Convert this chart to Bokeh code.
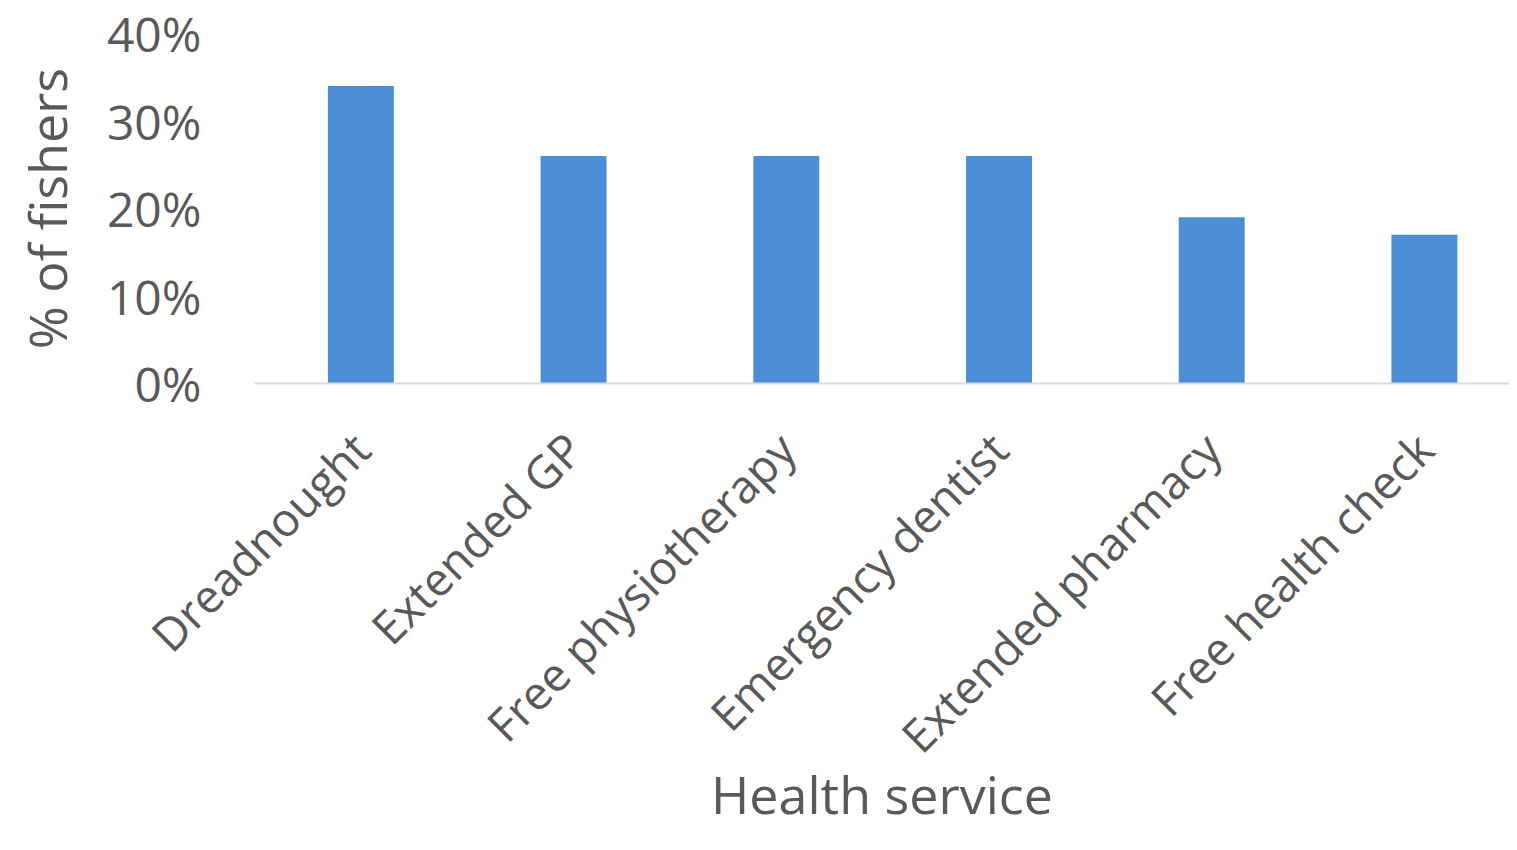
import math
from bokeh.plotting import figure
from bokeh.models import Range1d, FixedTicker, NumeralTickFormatter, ColumnDataSource
from bokeh.embed import file_html
from bokeh.resources import INLINE

categories = ["Dreadnought", "Extended GP", "Free physiotherapy", "Emergency dentist",
              "Extended pharmacy", "Free health check"]
values = [0.34, 0.26, 0.26, 0.26, 0.19, 0.17]
y_ticks = [0.0, 0.1, 0.2, 0.3, 0.4]

FONT = "Open Sans"
TXT = "#595959"

src = ColumnDataSource(dict(x=list(range(len(categories))), top=values))

p = figure(width=1509, height=834, output_backend="svg", toolbar_location=None,
           x_range=Range1d(-0.5, 5.40), y_range=Range1d(0, 0.40),
           min_border_left=254, min_border_top=33, min_border_right=0, min_border_bottom=451)
p.outline_line_color = None
p.grid.visible = False

p.vbar(x="x", top="top", bottom=0, width=0.31, source=src, fill_color="#4a8fd8", line_color=None)

p.xaxis.ticker = FixedTicker(ticks=list(range(len(categories))))
p.xaxis.major_label_overrides = {i: c for i, c in enumerate(categories)}
p.xaxis.major_label_orientation = math.pi / 4
p.xaxis.axis_line_color = "#d9d9d9"
p.xaxis.axis_line_width = 2
p.xaxis.major_tick_line_color = None
p.xaxis.minor_tick_line_color = None
p.xaxis.major_label_text_font = FONT
p.xaxis.major_label_text_font_size = "46px"
p.xaxis.major_label_text_color = TXT
p.xaxis.major_label_standoff = 51
p.xaxis.axis_label = "Health service"
p.xaxis.axis_label_text_font = FONT
p.xaxis.axis_label_text_font_size = "52px"
p.xaxis.axis_label_text_font_style = "normal"
p.xaxis.axis_label_text_color = TXT
p.xaxis.axis_label_standoff = -32

p.yaxis.ticker = FixedTicker(ticks=y_ticks)
p.yaxis.formatter = NumeralTickFormatter(format="0%")
p.yaxis.axis_line_color = None
p.yaxis.major_tick_line_color = None
p.yaxis.minor_tick_line_color = None
p.yaxis.major_label_text_font = FONT
p.yaxis.major_label_text_font_size = "48px"
p.yaxis.major_label_text_color = TXT
p.yaxis.major_label_standoff = 47
p.yaxis.axis_label = "% of fishers"
p.yaxis.axis_label_text_font = FONT
p.yaxis.axis_label_text_font_size = "52px"
p.yaxis.axis_label_text_font_style = "normal"
p.yaxis.axis_label_text_color = TXT
p.yaxis.axis_label_standoff = 22

open("out.html", "w").write(file_html(p, INLINE))
